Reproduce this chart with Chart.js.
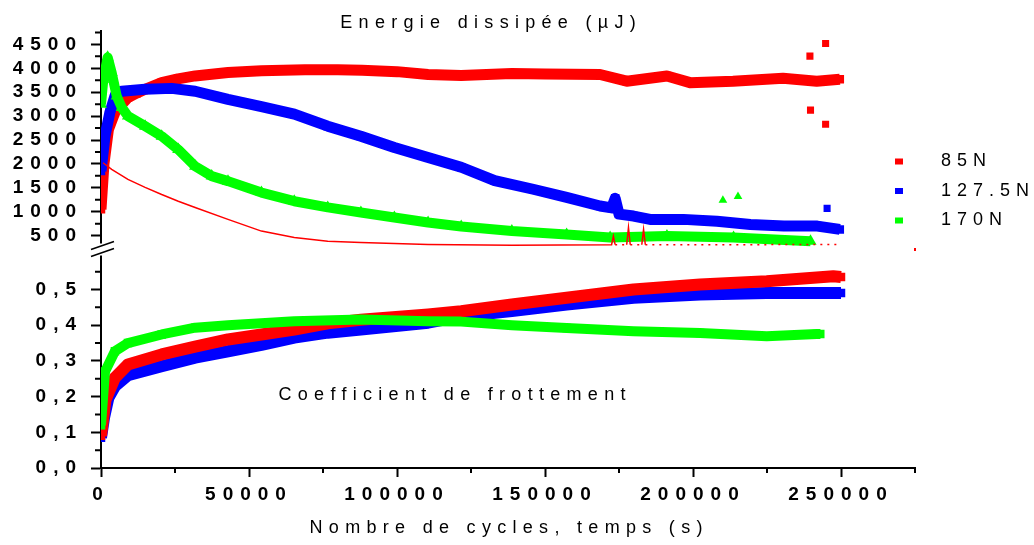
<!DOCTYPE html>
<html>
<head>
<meta charset="utf-8">
<title>Energie dissipée et coefficient de frottement</title>
<script src="https://cdn.jsdelivr.net/npm/chart.js@4.4.1/dist/chart.umd.min.js"></script>
<style>
  html, body { margin: 0; padding: 0; background: #fff; }
  #graphique { display: block; }
</style>
</head>
<body>
<canvas id="graphique" width="1034" height="545"></canvas>
<script>
// séries et valeurs
const labels = ["85N", "127.5N", "170N"];
const couleurs = ["#ff0000", "#0000ff", "#00ff00"];

const xTicks = [0, 50000, 100000, 150000, 200000, 250000];
const xPetits = [25000, 75000, 125000, 175000, 225000, 275000];
const energieTicks = [500, 1000, 1500, 2000, 2500, 3000, 3500, 4000, 4500];
const energiePetits = [750, 1250, 1750, 2250, 2750, 3250, 3750, 4250, 4750];
const coefTicks = [0, 0.1, 0.2, 0.3, 0.4, 0.5];
const coefPetits = [0.05, 0.15, 0.25, 0.35, 0.45, 0.55];

// énergie dissipée (µJ)
const cyclesE85 = [0, 1000, 2500, 4700, 7000, 9100, 12000, 14900, 20500, 26000, 31800, 42900, 54200, 68900, 80000, 88200, 100000, 110500, 121700, 138800, 150000, 168600, 177600, 191200, 199000, 213500, 230400, 241800, 249600];
const energie85 = [1050, 2000, 2720, 3080, 3250, 3390, 3480, 3560, 3700, 3780, 3840, 3910, 3950, 3970, 3970, 3960, 3930, 3870, 3850, 3890, 3880, 3870, 3730, 3840, 3700, 3730, 3790, 3730, 3770];

const cyclesE127 = [0, 1350, 3000, 4700, 7000, 14900, 23900, 31800, 42900, 54200, 65300, 76600, 87800, 99100, 110500, 121700, 133000, 146000, 157300, 168600, 172500, 173700, 175000, 179900, 185500, 196800, 208100, 219400, 230700, 242000, 249600];
const energie127 = [1850, 2580, 3080, 3420, 3520, 3560, 3580, 3520, 3350, 3200, 3040, 2790, 2580, 2345, 2135, 1930, 1650, 1470, 1300, 1120, 1080, 1280, 950, 910, 840, 840, 800, 735, 700, 700, 630];

const cyclesE170 = [0, 800, 2250, 3600, 5300, 7000, 9100, 14900, 20500, 26100, 31800, 37400, 42900, 54200, 65300, 76600, 87800, 99100, 110500, 121700, 138800, 157300, 172000, 191200, 213700, 239700];
const energie170 = [3250, 3770, 4230, 3910, 3420, 3180, 3000, 2790, 2580, 2300, 1950, 1745, 1640, 1400, 1220, 1090, 985, 880, 775, 690, 595, 525, 460, 490, 460, 385];

// courbe fine rouge
const cyclesFine = [700, 3600, 9100, 14900, 20500, 26100, 31800, 42900, 54200, 65300, 76600, 87800, 110500, 138800, 172500, 173100, 173700, 177600, 178200, 178800, 182700, 183300, 183900, 210000, 249000];
const energieFine = [2025, 1885, 1675, 1510, 1360, 1220, 1090, 840, 595, 460, 385, 355, 315, 300, 310, 490, 310, 310, 670, 310, 310, 630, 310, 310, 315];

// points isolés
const isoles85X = [239500, 244800, 239700, 244800];
const isoles85Y = [4255, 4520, 3125, 2830];
const isoles127X = [245300];
const isoles127Y = [1070];
const isoles170X = [210100, 215200];
const isoles170Y = [1240, 1320];

// coefficient de frottement
const cyclesC85 = [0, 1500, 4700, 9100, 20500, 31800, 42900, 54200, 65300, 76600, 87800, 110500, 121700, 138800, 157300, 179900, 202400, 224900, 247400, 250000];
const coef85 = [0.09, 0.19, 0.253, 0.29, 0.318, 0.34, 0.36, 0.374, 0.388, 0.405, 0.415, 0.43, 0.439, 0.458, 0.477, 0.50, 0.514, 0.523, 0.537, 0.535];

const cyclesC127 = [0, 1000, 2500, 4700, 9100, 20500, 31800, 42900, 54200, 65300, 76600, 87800, 110500, 121700, 138800, 157300, 179900, 202400, 224900, 247400, 250000];
const coef127 = [0.085, 0.14, 0.197, 0.229, 0.26, 0.285, 0.309, 0.327, 0.345, 0.365, 0.379, 0.388, 0.407, 0.425, 0.44, 0.458, 0.477, 0.486, 0.49, 0.49, 0.49];

const cyclesC170 = [0, 1350, 4700, 9100, 20500, 31800, 42900, 65300, 87800, 110500, 121700, 138800, 157300, 179900, 202400, 224900, 241800, 243000];
const coef170 = [0.12, 0.27, 0.327, 0.35, 0.374, 0.393, 0.40, 0.411, 0.416, 0.411, 0.41, 0.40, 0.392, 0.383, 0.378, 0.369, 0.375, 0.375];

const police = "'Liberation Sans', Arial, sans-serif";

function points(xs, ys) {
    return xs.map((x, i) => ({ x: x, y: ys[i] }));
}

function serie(label, xs, ys, axe, couleur, style, ordre, epaisseur) {
    return {
        label: label,
        data: points(xs, ys),
        yAxisID: axe,
        borderColor: couleur,
        backgroundColor: couleur,
        borderWidth: epaisseur,
        borderJoinStyle: "round",
        pointStyle: style,
        pointRadius: style == "triangle" ? 7 : 6,
        pointBorderWidth: 0,
        order: ordre
    };
}

function isoles(xs, ys, axe, couleur, style) {
    return {
        data: points(xs, ys),
        yAxisID: axe,
        showLine: false,
        backgroundColor: couleur,
        borderColor: couleur,
        pointStyle: style,
        pointRadius: 5,
        pointBorderWidth: 0,
        order: 0
    };
}

const datasets = [
    serie(labels[0], cyclesE85, energie85, "yEnergie", couleurs[0], "rect", 3, 11),
    serie(labels[1], cyclesE127, energie127, "yEnergie", couleurs[1], "rect", 2, 11),
    serie(labels[2], cyclesE170, energie170, "yEnergie", couleurs[2], "triangle", 1, 10),
    {
        data: points(cyclesFine, energieFine),
        yAxisID: "yEnergie",
        borderColor: couleurs[0],
        borderWidth: 1.5,
        pointRadius: 0,
        order: 0,
        segment: {
            borderDash: c => (c.p0.parsed.x > 140000 && c.p0.parsed.y < 400 && c.p1.parsed.y < 400) ? [2, 5] : undefined
        }
    },
    isoles(isoles85X, isoles85Y, "yEnergie", couleurs[0], "rect"),
    isoles(isoles127X, isoles127Y, "yEnergie", couleurs[1], "rect"),
    isoles(isoles170X, isoles170Y, "yEnergie", couleurs[2], "triangle"),
    serie(labels[0], cyclesC85, coef85, "yCoef", couleurs[0], "rect", 2, 12),
    serie(labels[1], cyclesC127, coef127, "yCoef", couleurs[1], "rect", 3, 12),
    serie(labels[2], cyclesC170, coef170, "yCoef", couleurs[2], "rect", 1, 10)
];

function petitsTraits(ctx, scale, valeurs, longueur) {
    ctx.beginPath();
    for (const v of valeurs) {
        const p = scale.getPixelForValue(v);
        if (scale.isHorizontal()) {
            ctx.moveTo(p, scale.top);
            ctx.lineTo(p, scale.top + longueur);
        } else {
            ctx.moveTo(scale.right - longueur, p);
            ctx.lineTo(scale.right, p);
        }
    }
    ctx.stroke();
}

function texte(ctx, t, x, y, taille, espace) {
    ctx.font = taille + "px " + police;
    ctx.letterSpacing = espace + "px";
    const w = ctx.measureText(t).width - espace;
    ctx.textAlign = "left";
    ctx.textBaseline = "middle";
    ctx.fillText(t, x - w / 2, y);
}

const decor = {
    id: "decor",
    beforeDraw(chart) {
        chart.ctx.letterSpacing = "7px";
    },
    afterDraw(chart) {
        const ctx = chart.ctx;
        const area = chart.chartArea;
        ctx.save();
        ctx.strokeStyle = "#000";
        ctx.lineWidth = 2;
        petitsTraits(ctx, chart.scales.x, xPetits, 5);
        petitsTraits(ctx, chart.scales.yEnergie, energiePetits, 6);
        petitsTraits(ctx, chart.scales.yCoef, coefPetits, 6);

        // coupure de l'axe
        const yb = chart.scales.yEnergie.bottom;
        ctx.fillStyle = "#fff";
        ctx.fillRect(area.left - 5, yb - 6, 10, 12);
        ctx.lineWidth = 1.5;
        ctx.beginPath();
        ctx.moveTo(area.left - 10, yb);
        ctx.lineTo(area.left + 13, yb - 8);
        ctx.moveTo(area.left - 10, yb + 7);
        ctx.lineTo(area.left + 13, yb - 1);
        ctx.stroke();

        // titres
        ctx.fillStyle = "#000";
        texte(ctx, "Energie dissipée (µJ)", 488, 23, 18, 6.3);
        texte(ctx, "Coefficient de frottement", 452, 395, 18, 6.3);
        texte(ctx, "Nombre de cycles, temps (s)", 506, 528, 18, 6.3);

        // légende
        for (let i = 0; i < labels.length; i++) {
            const y = 161.5 + i * 29.5;
            ctx.fillStyle = couleurs[i];
            ctx.fillRect(895, y - 3, 8, 6);
            ctx.fillStyle = "#000";
            ctx.font = "18px " + police;
            ctx.letterSpacing = "6px";
            ctx.textAlign = "left";
            ctx.textBaseline = "middle";
            ctx.fillText(labels[i], 941, y);
        }
        ctx.fillStyle = couleurs[0];
        ctx.fillRect(914, 161.5 + 3 * 29.5 - 2, 2, 3);
        ctx.restore();
    }
};

const policeTicks = { family: police, size: 19, weight: "bold" };

const axeY = (min, max, ticks, format) => ({
    type: "linear",
    position: "left",
    stack: "panneaux",
    stackWeight: 1,
    min: min,
    max: max,
    afterBuildTicks: s => { s.ticks = ticks.map(v => ({ value: v })); },
    afterFit: s => { s.width = 101; },
    grid: { drawOnChartArea: false, tickLength: 10, tickWidth: 2, tickColor: "#000" },
    border: { color: "#000", width: 2 },
    ticks: { color: "#000", font: policeTicks, padding: 8, autoSkip: false, callback: format }
});

const graphique = new Chart(document.getElementById("graphique"), {
    type: "line",
    data: { datasets: datasets },
    options: {
        responsive: false,
        animation: false,
        events: [],
        layout: { padding: { top: 31, right: 119, left: 0, bottom: 0 } },
        plugins: { legend: { display: false }, tooltip: { enabled: false } },
        scales: {
            x: {
                type: "linear",
                min: 0,
                max: 275000,
                afterBuildTicks: s => { s.ticks = xTicks.map(v => ({ value: v })); },
                afterFit: s => { s.height = 77; },
                grid: { drawOnChartArea: false, tickLength: 9, tickWidth: 2, tickColor: "#000" },
                border: { color: "#000", width: 2 },
                ticks: { color: "#000", font: policeTicks, padding: 6, maxRotation: 0, autoSkip: false, callback: v => String(v) }
            },
            yCoef: axeY(0, 0.612, coefTicks, v => v.toFixed(1).replace(".", ",")),
            yEnergie: axeY(210, 4780, energieTicks, v => String(v))
        }
    },
    plugins: [decor]
});
</script>
</body>
</html>
